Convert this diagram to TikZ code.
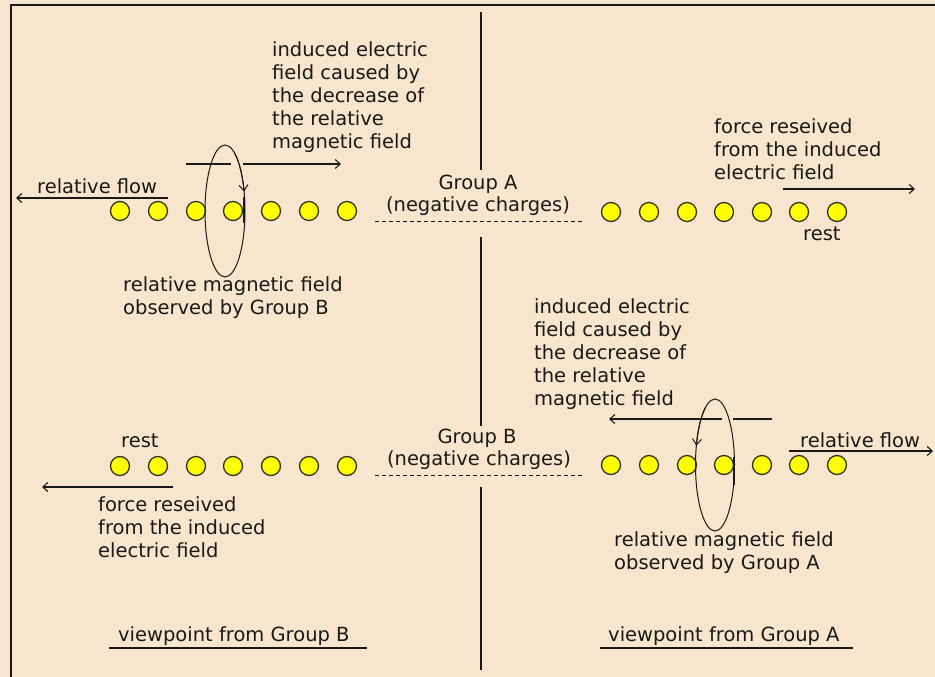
\documentclass[tikz,border=0pt]{standalone}
\usepackage{fontspec}
\setmainfont{DejaVu Sans}
\usetikzlibrary{arrows.meta}
\definecolor{bg}{RGB}{247,229,205}
\definecolor{ink}{RGB}{25,25,25}
\definecolor{dotfill}{RGB}{255,255,0}
\definecolor{dotline}{RGB}{50,50,30}
\tikzset{
  lbl/.style={font=\fontsize{19.5}{23}\selectfont, text=ink, inner sep=0pt, align=left},
  chg/.style={circle, draw=dotline, fill=dotfill, line width=1.3pt, minimum size=19pt, inner sep=0pt},
  arr/.style={draw=ink, line width=1.1pt, -{Straight Barb[length=5pt,width=9pt]}},
  looparr/.style={draw=ink, line width=1pt, -{Straight Barb[length=6pt,width=9pt]}},
  plainln/.style={draw=ink, line width=1.1pt},
  axisln/.style={draw=ink, line width=2.6pt},
  loopline/.style={draw=ink, line width=1pt},
  barln/.style={draw=ink, line width=2.6pt},
  dashln/.style={draw=ink, line width=1pt, dash pattern=on 4pt off 3pt},
  uline/.style={draw=ink, line width=2.8pt}
}
\begin{document}
\begin{tikzpicture}[x=1pt,y=-1pt]
\useasboundingbox (0,0) rectangle (935,677);
\fill[bg] (0,0) rectangle (935,677);
% frame
\draw[ink, line width=2pt] (11,677) -- (11,5) -- (935,5);
% central axis
\coordinate (a1) at (481,12); \coordinate (a2) at (481,170);
\coordinate (a3) at (481,237); \coordinate (a4) at (481,426);
\coordinate (a5) at (481,487); \coordinate (a6) at (481,670);
\draw[axisln] (a1) -- (a2);
\draw[axisln] (a3) -- (a4);
\draw[axisln] (a5) -- (a6);
% dashed lines
\coordinate (d1) at (375,221); \coordinate (d2) at (582,221);
\coordinate (d3) at (375,475); \coordinate (d4) at (582,475);
\draw[dashln] (d1) -- (d2);
\draw[dashln] (d3) -- (d4);
% charges
\foreach \i/\x in {1/120,2/158,3/196,4/233,5/271,6/309,7/347} {
  \node[chg] (tl\i) at (\x,211) {};
  \node[chg] (bl\i) at (\x,466) {};
}
\foreach \i/\x in {1/611,2/649,3/687,4/724,5/762,6/799,7/837} {
  \node[chg] (tr\i) at (\x,212) {};
  \node[chg] (br\i) at (\x,465) {};
}
% group labels
\node[lbl, anchor=base] (ga) at (478,189) {Group A};
\node[lbl, anchor=base] (gan) at (478,211) {(negative charges)};
\node[lbl, anchor=base] (gb) at (477,443) {Group B};
\node[lbl, anchor=base] (gbn) at (479,465) {(negative charges)};
% ---------- top left (viewpoint B) ----------
\node[lbl, anchor=north west] (ie1) at (272,41) {induced electric\\field caused by\\the decrease of\\the relative\\magnetic field};
\coordinate (ie1s) at (186,164); \coordinate (ie1g1) at (231,164);
\coordinate (ie1g2) at (243,164); \coordinate (ie1e) at (341,164);
\draw[plainln] (ie1s) -- (ie1g1);
\draw[arr] (ie1g2) -- (ie1e);
\node[lbl, anchor=base west] (rf1) at (37,193) {relative flow};
\coordinate (rf1s) at (168,198); \coordinate (rf1e) at (16,198);
\draw[arr] (rf1s) -- (rf1e);
\draw[loopline] (225,211) ellipse [x radius=20pt, y radius=66pt];
\coordinate (el1) at (235,153.8);
\draw[looparr] (el1) arc[start angle=60, end angle=17, x radius=20pt, y radius=66pt];
\coordinate (b1s) at (244,197); \coordinate (b1e) at (244,223);
\draw[barln] (b1s) -- (b1e);
\node[lbl, anchor=north west] (mf1) at (123,276) {relative magnetic field\\observed by Group B};
% ---------- top right ----------
\node[lbl, anchor=north west] (fr1) at (714,118) {force reseived\\from the induced\\electric field};
\coordinate (fr1s) at (783,189); \coordinate (fr1e) at (915,189);
\draw[arr] (fr1s) -- (fr1e);
\node[lbl, anchor=base west] (rest1) at (803,240) {rest};
% ---------- bottom left ----------
\node[lbl, anchor=base west] (rest2) at (121,447) {rest};
\coordinate (fr2s) at (173,487); \coordinate (fr2e) at (42,487);
\draw[arr] (fr2s) -- (fr2e);
\node[lbl, anchor=north west] (fr2) at (98,496) {force reseived\\from the induced\\electric field};
% ---------- bottom right (viewpoint A) ----------
\node[lbl, anchor=north west] (ie2) at (534,298) {induced electric\\field caused by\\the decrease of\\the relative\\magnetic field};
\coordinate (ie2s) at (772,419); \coordinate (ie2g1) at (733,419);
\coordinate (ie2g2) at (722,419); \coordinate (ie2e) at (609,419);
\draw[plainln] (ie2s) -- (ie2g1);
\draw[arr] (ie2g2) -- (ie2e);
\draw[loopline] (715,465) ellipse [x radius=19.5pt, y radius=66pt];
\coordinate (el2) at (705.25,407.84);
\draw[looparr] (el2) arc[start angle=120, end angle=163, x radius=19.5pt, y radius=66pt];
\coordinate (b2s) at (734,457); \coordinate (b2e) at (734,485);
\draw[barln] (b2s) -- (b2e);
\node[lbl, anchor=base west] (rf2) at (800,447) {relative flow};
\coordinate (rf2s) at (789,451); \coordinate (rf2e) at (933,451);
\draw[arr] (rf2s) -- (rf2e);
\node[lbl, anchor=north west] (mf2) at (614,531) {relative magnetic field\\observed by Group A};
% ---------- viewpoint captions ----------
\node[lbl, anchor=base west] (vb) at (118,641) {viewpoint from Group B};
\coordinate (u1s) at (109,648); \coordinate (u1e) at (367,648);
\draw[uline] (u1s) -- (u1e);
\node[lbl, anchor=base west] (va) at (608,641) {viewpoint from Group A};
\coordinate (u2s) at (600,648); \coordinate (u2e) at (853,648);
\draw[uline] (u2s) -- (u2e);
\end{tikzpicture}
\end{document}
